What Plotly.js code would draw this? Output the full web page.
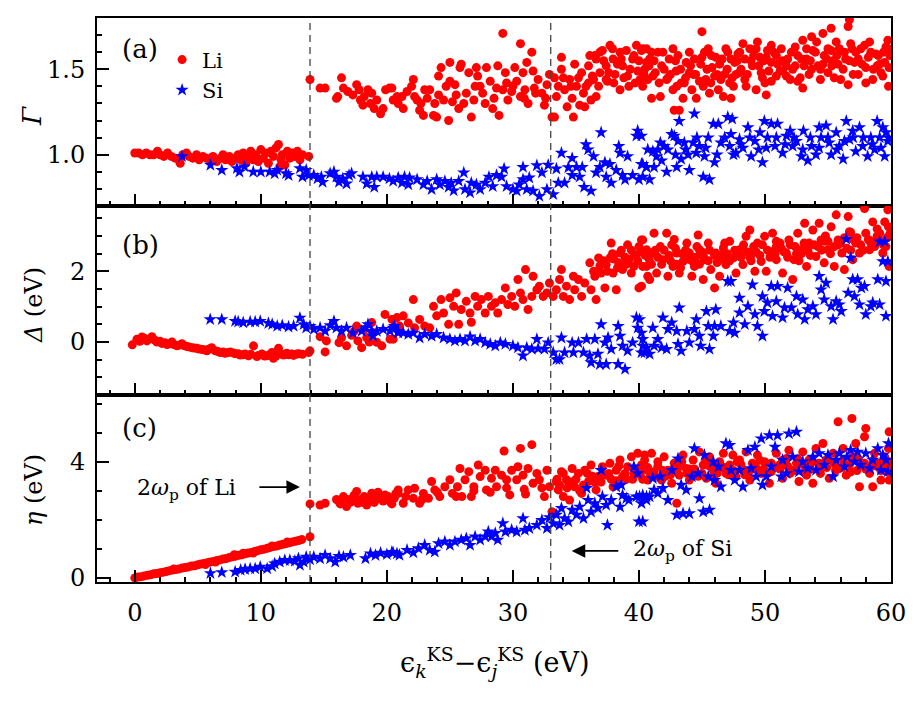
<!DOCTYPE html>
<html>
<head>
<meta charset="utf-8">
<script src="https://cdn.plot.ly/plotly-3.0.1.min.js"></script>
<style>html,body{margin:0;padding:0;background:#fff;}#chart{width:917px;height:704px;}</style>
</head>
<body>
<div id="chart"></div>
<script>
// ---------- DATA (x = eps_k - eps_j in eV, value) ----------
// Panel (a): Gamma
const liGamma = [
[0,1.01],[0.3,1.01],[0.6,1.0],[0.9,1.01],[1.2,1.0],[1.5,1.0],[1.8,1.02],[2.0,1.0],[2.3,0.99],[2.6,1.01],[2.9,0.99],[3.2,0.98],[3.5,0.97],[3.6,0.95],[3.8,1.0],[4.1,1.01],[4.3,0.99],[4.6,0.98],[4.9,1.0],[5.1,0.97],[5.4,0.99],[5.7,0.98],[6.0,0.97],[6.2,0.99],[6.5,0.96],[6.8,0.98],[7.0,1.0],[7.2,0.97],[7.5,0.99],[7.7,0.96],[8.0,0.98],[8.2,1.0],[8.4,0.97],[8.6,1.01],[8.8,0.95],[9.0,0.99],[9.2,1.02],[9.4,0.97],[9.6,1.0],[9.8,0.96],[10.0,1.03],[10.2,0.98],[10.4,1.01],[10.6,0.95],[10.8,1.02],[11.0,0.99],[11.2,1.04],[11.4,1.06],[11.5,0.93],[11.6,0.97],[11.7,1.0],[11.9,0.94],[12.1,1.02],[12.3,0.98],[12.5,1.01],[12.7,0.99],[12.9,1.02],[13.1,0.97],[13.3,1.0],[13.8,0.99],
[13.9,1.44],[14.7,1.39],[15.1,1.39],[16.0,1.33],[16.1,1.34],[16.4,1.45],[16.55,1.39],[16.9,1.37],[17.3,1.35],[17.6,1.41],[17.8,1.38],[17.9,1.32],[18.1,1.29],[18.2,1.34],[18.5,1.38],[18.7,1.30],[18.8,1.36],[19.0,1.27],[19.2,1.32],[19.5,1.24],[19.7,1.27],[19.9,1.38],[20.2,1.39],[20.4,1.39],[20.5,1.32],[20.8,1.34],
[21.2,1.34],[21.3,1.27],[21.96,1.40],[22.1,1.44],[22.2,1.34],[22.6,1.26],[22.7,1.30],[22.9,1.23],[23.2,1.33],[23.4,1.38],[23.7,1.23],[23.95,1.22],[24.1,1.35],[24.1,1.46],[24.3,1.51],[24.5,1.32],[24.9,1.20],[25.0,1.54],[25.0,1.43],[25.2,1.31],[25.4,1.41],[25.7,1.27],[25.8,1.51],[25.9,1.53],[26.3,1.36],[26.5,1.48],[26.7,1.22],[26.9,1.32],[27.1,1.51],[27.2,1.46],[27.4,1.40],[27.8,1.30],[27.9,1.51],[28.2,1.43],[28.4,1.27],[28.7,1.39],[28.8,1.52],[28.9,1.23],[29.2,1.71],[29.4,1.48],[29.5,1.42],[29.6,1.32],[29.9,1.37],[30.15,1.51],[30.3,1.43],[30.6,1.34],[30.6,1.65],[30.8,1.48],[30.95,1.38],[31.1,1.54],[31.2,1.30],[31.5,1.60],[31.6,1.49],[31.7,1.39],[32.0,1.44],[32.3,1.36],[32.5,1.29],[32.7,1.41],[32.9,1.47],[33.1,1.22],[33.3,1.22],[33.45,1.34],[33.6,1.40],[33.85,1.57],[33.85,1.50],[34.1,1.38],[34.3,1.28],[34.5,1.44],[34.7,1.33],[34.8,1.22],[34.9,1.53],[35.05,1.40],[35.3,1.29],[35.45,1.48],[35.6,1.36],[35.7,1.28],[36.0,1.52],[36.1,1.58],[36.2,1.32],[36.4,1.44],[36.6,1.34],[36.6,1.56],[36.9,1.48],[37.1,1.61],[37.4,1.52],[37.5,1.43],[37.7,1.64],[37.95,1.56],[38.1,1.47],[38.5,1.60],[38.7,1.52],[39.0,1.61],[39.1,1.46],[39.5,1.56],[39.8,1.64],[39.9,1.49],[40.2,1.61],[40.3,1.40],[40.6,1.54],[40.7,1.44],
[40.3,1.62],[40.45,1.50],[40.85,1.56],[41.0,1.33],[41.1,1.46],[41.5,1.60],[41.7,1.34],[41.8,1.52],[42.2,1.44],[42.4,1.56],[42.7,1.38],[42.8,1.26],[43.2,1.26],[42.95,1.49],[43.35,1.42],[43.5,1.33],[43.75,1.54],[44.0,1.60],[44.2,1.38],[44.3,1.47],[44.55,1.33],[45.0,1.72],[45.0,1.57],[45.1,1.40],[45.4,1.50],[45.6,1.36],[45.75,1.58],[46.0,1.46],[46.3,1.38],[46.4,1.53],[46.7,1.34],[46.8,1.47],[47.05,1.60],[47.2,1.42],[47.3,1.33],[47.6,1.54],[47.85,1.59],[47.98,1.48],[48.25,1.65],[48.4,1.56],[48.5,1.40],[48.8,1.62],[49.0,1.52],[49.3,1.38],[49.4,1.66],[49.6,1.57],[49.8,1.45],[50.1,1.35],[50.2,1.61],[50.5,1.54],[50.5,1.43],[50.9,1.58],[51.2,1.49],[51.4,1.55],[51.7,1.46],[52.1,1.60],[52.4,1.52],[52.6,1.43],[53.0,1.67],[53.0,1.39],[53.3,1.56],[53.5,1.47],[53.7,1.69],[53.8,1.61],[54.2,1.52],[54.4,1.44],[54.6,1.71],[54.7,1.58],[55.0,1.48],[55.25,1.74],[55.25,1.61],[55.65,1.66],[55.8,1.53],[56.0,1.44],[56.3,1.60],[56.6,1.41],[56.6,1.75],[56.7,1.79],[56.8,1.65],[57.1,1.54],[57.4,1.47],[57.6,1.62],[58.0,1.51],[58.3,1.66],[58.55,1.44],[58.8,1.59],[59.1,1.53],[59.35,1.46],[59.6,1.63],[59.75,1.67],[59.8,1.40],[59.85,1.51],
[36.3,1.46],[36.8,1.40],[37.2,1.55],[37.6,1.48],[38.0,1.42],[38.3,1.53],[38.8,1.45],[39.3,1.50],[39.7,1.42],[40.0,1.55],[40.4,1.47],[40.8,1.52],[41.3,1.48],[41.6,1.42],[42.0,1.50],[42.5,1.47],[42.9,1.55],[43.3,1.50],[43.7,1.45],[44.1,1.52],[44.5,1.47],[44.9,1.53],[45.3,1.44],[45.8,1.51],[46.2,1.47],[46.6,1.56],[47.0,1.50],[47.4,1.45],[47.8,1.55],[48.1,1.50],[48.6,1.47],[49.1,1.58],[49.5,1.52],[49.9,1.55],[50.3,1.49],[50.7,1.60],[51.0,1.53],[51.4,1.49],[51.8,1.56],[52.2,1.50],[52.6,1.58],[53.1,1.52],[53.6,1.55],[54.0,1.60],[54.4,1.50],[54.9,1.56],[55.3,1.52],[55.7,1.58],[56.2,1.50],[56.7,1.55],[57.2,1.60],[57.7,1.53],[58.2,1.57],[58.6,1.50],[59.0,1.58],[59.5,1.54],[59.9,1.58],
[36.5,1.58],[38.5,1.38],[41.0,1.60],[43.0,1.40],[45.5,1.62],[47.5,1.40],[50.0,1.42],[52.8,1.45],[55.5,1.45],[57.0,1.47],[58.0,1.42],[59.2,1.48],
[20.9,1.30],[21.6,1.37],[22.4,1.32],[23.0,1.38],[23.8,1.30],[24.7,1.40],[25.5,1.35],[26.1,1.30],[27.0,1.40],[27.6,1.36],[28.5,1.33],[29.2,1.38],[30.0,1.40],[30.9,1.33],[31.8,1.36],[32.6,1.33],[33.3,1.45],[34.0,1.45],[34.6,1.40],[35.2,1.45],[35.8,1.40],
[36.0,1.42],[36.9,1.60],[37.4,1.44],[37.9,1.62],[38.6,1.56],[39.2,1.40],[39.6,1.58],[40.1,1.44],[40.6,1.62],[41.2,1.55],[41.9,1.60],[42.3,1.45],[42.7,1.62],[43.1,1.58],[43.6,1.42],[44.0,1.48],[44.4,1.56],[44.8,1.43],[45.2,1.60],[45.7,1.42],[46.1,1.57],[46.5,1.44],[46.9,1.62],[47.3,1.56],[47.7,1.47],[48.0,1.60],[48.4,1.44],[48.9,1.55],[49.3,1.62],[49.7,1.48],[50.1,1.57],[50.5,1.64],[50.9,1.46],[51.3,1.62],[51.7,1.52],[52.0,1.44],[52.4,1.63],[52.9,1.56],[53.3,1.62],[53.7,1.50],[54.1,1.66],[54.6,1.53],[55.0,1.62],[55.4,1.55],[55.9,1.62],[56.4,1.56],[56.9,1.62],[57.4,1.56],[57.9,1.64],[58.4,1.60],[58.9,1.52],[59.4,1.60],[59.8,1.62]
];
const siGamma = [
[3.74,0.99],[6.0,0.94],[6.9,0.91],[8.1,0.92],[8.3,0.90],[8.7,0.93],[9.4,0.90],[10.0,0.90],[10.7,0.90],[11.1,0.89],[11.3,0.91],[12.0,0.89],[12.2,0.88],[13.1,0.92],[13.3,0.87],[13.6,0.91],[13.8,0.88],[14.2,0.88],[14.5,0.86],[14.8,0.87],[14.9,0.84],[15.5,0.89],[15.8,0.90],[16.0,0.87],[16.2,0.84],[16.5,0.86],[16.8,0.83],[17.0,0.88],[17.2,0.89],[18.1,0.87],[18.4,0.83],[18.8,0.87],[19.0,0.81],[19.2,0.87],[19.7,0.87],[20.2,0.86],
[20.5,0.845],[20.9,0.865],[21.2,0.835],[21.4,0.87],[21.7,0.825],[21.8,0.865],[22.4,0.855],[22.9,0.825],[23.2,0.845],[23.55,0.797],[23.95,0.855],[24.2,0.825],[24.6,0.845],[24.9,0.81],[25.1,0.835],[25.3,0.79],[25.7,0.845],[26.1,0.895],[26.2,0.797],[26.6,0.778],[26.7,0.835],[27.1,0.825],[27.4,0.797],[27.8,0.835],[28.1,0.87],[28.4,0.815],[28.7,0.88],[29.1,0.87],[29.3,0.918],[29.5,0.815],[30.0,0.797],[30.3,0.788],[30.5,0.825],[30.8,0.927],[30.8,0.855],[31.1,0.797],[31.3,0.865],[31.6,0.788],[31.9,0.937],[32.1,0.758],[32.3,0.895],[32.7,0.797],[32.8,0.94],[33.2,0.768],[33.45,0.918],[33.6,0.835],[33.85,1.01],[34.1,0.835],[34.4,0.925],[34.7,0.98],[34.7,0.88],[35.05,0.927],[35.3,0.87],[35.5,0.927],[35.65,0.81],[35.8,1.06],[35.97,1.03],[36.2,0.788],[36.4,0.99],[36.6,0.895],[36.9,0.927],[37.0,1.13],[37.3,0.955],[37.4,0.87],[37.7,0.945],[37.8,0.835],[38.2,0.91],[38.4,1.05],[38.5,1.01],[38.7,0.88],[38.9,0.855],[39.1,0.99],[39.5,0.88],[39.8,1.11],[39.9,1.14],[40.0,0.855],[40.2,0.945],[40.6,0.927],[40.7,1.03],
[40.2,1.11],[40.3,0.945],[40.3,0.87],[40.85,0.855],[40.6,0.927],[41.1,1.02],[41.2,0.927],[41.4,0.99],[41.7,1.07],[41.8,0.965],[42.2,0.90],[42.3,1.03],[42.6,1.12],[42.8,1.11],[43.0,0.927],[43.1,1.08],[43.2,1.197],[43.35,0.975],[43.6,1.07],[43.9,1.00],[44.0,0.91],[44.3,1.07],[44.4,1.24],[44.55,1.01],[44.8,1.05],[45.1,0.87],[45.2,0.99],[45.5,1.10],[45.6,0.855],[45.9,1.18],[46.0,0.955],[46.3,1.18],[46.5,1.07],[47.05,1.22],[47.2,1.05],[47.3,1.12],[47.4,1.21],[47.7,1.01],[47.98,1.09],[48.25,1.04],[48.65,1.16],[48.9,0.99],[49.2,1.08],[49.6,1.13],[49.8,0.955],[49.95,1.197],[50.2,1.10],[50.5,1.18],[50.8,1.05],[51.0,1.18],[51.4,1.01],[51.7,1.11],[52.0,1.14],[52.2,1.05],[52.5,1.08],[52.9,0.99],[53.05,1.14],[53.4,0.965],[53.7,1.05],[54.05,1.00],[54.3,1.16],[54.45,1.10],[54.85,1.17],[55.1,1.07],[55.25,1.00],[55.65,1.13],[55.9,1.05],[56.2,0.975],[56.45,1.197],[56.7,1.09],[56.96,1.14],[57.2,1.02],[57.5,1.16],[57.75,1.05],[58.15,0.99],[58.4,1.10],[58.7,1.03],[58.9,1.197],[59.1,1.10],[59.35,1.16],[59.5,0.99],[59.6,1.13],[59.75,1.08],
[41.5,1.03],[42.0,1.05],[42.9,1.0],[43.7,1.03],[44.6,1.1],[45.3,1.04],[46.2,1.0],[46.8,1.1],[47.5,1.0],[48.1,1.06],[48.8,1.1],[49.5,1.03],[50.1,1.04],[50.9,1.1],[51.6,1.06],[52.3,1.1],[53.0,1.03],[53.6,1.1],[54.3,1.04],[55.0,1.1],[55.7,1.03],[56.3,1.08],[57.0,1.1],[57.8,1.1],[58.5,1.06],[59.2,1.04],[59.8,1.1]
];

// Panel (b): Delta (eV)
const liDelta = [
[-0.2,-0.08],[0.17,0.08],[0.57,0.14],[0.96,0.03],[1.36,0.15],[1.76,0.0],[2.15,-0.04],[2.55,-0.07],[2.95,0.0],[3.34,-0.11],[3.74,-0.05],[4.13,-0.13],[4.53,-0.16],[4.93,-0.18],[5.32,-0.21],[5.72,-0.25],[6.1,-0.16],[6.38,-0.25],[6.78,-0.30],[7.17,-0.32],[7.57,-0.28],[7.96,-0.33],[8.36,-0.37],[8.75,-0.34],[9.02,-0.39],[9.42,-0.11],[9.68,-0.41],[10.08,-0.34],[10.47,-0.39],[10.87,-0.30],[11.0,-0.46],[11.4,-0.18],[11.66,-0.34],[12.06,-0.32],[12.46,-0.34],[12.85,-0.34],[13.8,-0.30],[13.9,-0.25],
[0.4,0.02],[0.8,0.1],[1.1,0.08],[1.6,0.05],[2.0,0.02],[2.4,-0.02],[2.8,-0.05],[3.1,-0.07],[3.5,-0.09],[3.9,-0.1],[4.3,-0.14],[4.7,-0.17],[5.1,-0.2],[5.5,-0.22],[5.9,-0.2],[6.6,-0.27],[7.0,-0.28],[7.4,-0.3],[7.8,-0.31],[8.2,-0.33],[8.6,-0.36],[9.2,-0.35],[9.8,-0.38],[10.3,-0.40],[10.7,-0.36],[11.2,-0.4],[11.8,-0.37],[12.2,-0.36],[12.6,-0.38],[13.0,-0.33],[13.3,-0.35],
[14.7,0.15],[15.1,-0.28],[15.2,0.03],[16.2,-0.02],[16.4,0.12],[16.8,-0.11],[17.2,0.19],[17.6,0.45],[17.7,0.03],[18.0,-0.16],[18.4,0.12],[18.8,0.55],[18.9,0.27],[19.2,-0.01],[19.6,-0.11],[19.85,0.78],[20.25,0.08],[20.5,0.64],[20.8,0.69],[17.4,0.3],[18.2,0.35],[18.6,0.0],
[20.4,0.64],[20.5,0.08],[21.0,0.45],[21.3,0.74],[21.7,0.54],[22.1,1.2],[22.2,0.40],[22.6,0.64],[23.0,0.45],[23.4,0.40],[23.7,1.01],[23.95,0.74],[24.3,1.2],[24.5,0.82],[24.9,0.50],[25.0,1.25],[25.3,1.01],[25.5,1.39],[25.7,0.50],[25.9,0.92],[26.3,1.15],[26.6,0.82],[26.7,0.56],[27.0,1.29],[27.2,1.01],[27.5,1.20],[27.8,0.82],[28.05,1.29],[28.3,1.01],[28.6,1.11],[28.8,0.82],[29.1,1.20],[29.4,1.53],[29.6,1.06],[29.9,1.29],[30.15,1.01],[30.4,1.77],[30.6,1.39],[30.8,1.20],[31.0,2.05],[31.2,0.92],[31.5,1.29],[31.6,1.86],[31.9,1.48],[32.1,1.58],[32.4,1.29],[32.7,1.39],[32.9,1.67],[33.2,1.29],[33.45,1.48],[33.7,1.77],[33.85,2.05],[34.0,1.29],[34.25,1.58],[34.5,1.20],[34.8,1.86],[34.9,1.48],[35.2,1.77],[35.45,1.29],[35.7,1.67],[36.1,2.24],[36.2,1.48],[36.5,1.86],[36.6,1.20],[36.8,2.38],[37.0,1.95],[37.3,1.53],[37.4,2.19],[37.7,2.38],[37.8,2.80],[37.95,1.95],[38.2,1.48],[38.4,2.24],[38.5,2.52],[38.7,2.05],[39.1,2.75],[39.2,2.33],[39.4,1.95],[39.6,2.14],[39.8,2.47],[40.0,1.53],[40.2,2.89],[40.3,2.14],[40.6,2.61],[40.7,1.86],
[40.2,1.58],[40.3,2.89],[40.6,2.14],[40.85,1.77],[41.0,2.52],[41.2,3.08],[41.4,1.95],[41.7,2.70],[41.9,2.33],[42.2,3.08],[42.3,1.86],[42.6,2.75],[42.7,2.14],[43.0,2.52],[43.2,1.95],[43.5,2.28],[43.8,2.80],[44.0,2.52],[44.2,1.86],[44.4,2.14],[44.7,3.03],[44.8,2.61],[45.1,1.77],[45.2,2.33],[45.5,2.80],[45.7,2.05],[46.0,1.53],[46.1,2.52],[46.4,1.86],[46.7,2.66],[46.9,2.19],[47.2,2.85],[47.5,2.38],[47.7,1.95],[47.98,2.61],[48.25,2.19],[48.5,2.99],[48.8,3.17],[48.9,2.47],[49.2,2.00],[49.4,2.80],[49.7,2.28],[49.97,2.99],[50.1,2.00],[50.4,2.56],[50.6,3.08],[50.9,2.33],[51.2,2.80],[51.4,1.95],[51.7,2.52],[51.9,2.89],[52.2,1.77],[52.3,2.33],[52.6,3.08],[52.9,2.61],[53.15,3.36],[53.3,2.14],[53.5,2.80],[53.8,3.17],[54.05,2.42],[54.3,3.36],[54.45,2.89],[54.7,2.24],[55.0,2.61],[55.25,3.26],[55.5,2.14],[55.65,3.60],[55.8,2.89],[56.1,2.52],[56.3,2.05],[56.6,3.55],[56.7,3.12],[56.96,2.33],[57.2,2.80],[57.5,2.52],[57.9,3.78],[58.0,3.08],[58.3,2.61],[58.55,3.40],[58.8,2.89],[59.1,3.08],[59.35,2.52],[59.6,2.70],[59.75,3.74],[59.8,3.26],[59.85,2.14],
[37.2,2.3],[37.9,2.5],[38.3,2.1],[38.9,2.4],[39.4,2.6],[39.9,2.3],[40.5,2.45],[41.0,2.2],[41.5,2.4],[42.0,2.6],[42.5,2.3],[43.0,2.2],[43.4,2.5],[43.9,2.35],[44.5,2.4],[45.0,2.55],[45.5,2.3],[46.0,2.45],[46.6,2.35],[47.0,2.5],[47.6,2.6],[48.1,2.4],[48.6,2.55],[49.1,2.7],[49.6,2.45],[50.2,2.6],[50.8,2.5],[51.3,2.65],[51.8,2.4],[52.4,2.7],[52.9,2.5],[53.4,2.6],[53.9,2.75],[54.5,2.6],[55.0,2.85],[55.5,2.7],[56.0,2.8],[56.5,2.65],[57.0,2.9],[57.6,2.75],[58.2,2.9],[58.7,2.7],[59.2,2.85],[59.7,2.95],
[40.0,2.7],[42.8,2.9],[44.8,2.2],[46.8,2.8],[48.9,2.3],[50.9,2.85],[52.7,2.3],[54.8,3.0],[56.8,3.1],[58.9,3.2],[59.5,3.4],
[36.4,2.0],[36.9,2.15],[37.5,2.0],[38.0,2.35],[38.6,2.6],[39.0,2.2],[39.6,2.45],[40.2,2.55],[40.8,2.35],[41.3,2.6],[41.8,2.2],[42.4,2.45],[42.9,2.65],[43.3,2.1],[43.7,2.6],[44.2,2.3],[44.6,2.7],[45.1,2.45],[45.6,2.6],[46.2,2.25],[46.7,2.5],[47.2,2.3],[47.8,2.45],[48.3,2.75],[48.8,2.4],[49.3,2.55],[49.8,2.75],[50.4,2.4],[50.9,2.7],[51.5,2.55],[52.0,2.75],[52.5,2.5],[53.1,2.8],[53.6,2.45],[54.2,2.7],[54.7,2.85],[55.2,2.5],[55.8,2.75],[56.3,2.95],[56.8,2.6],[57.3,2.95],[57.8,2.6],[58.4,2.8],[58.9,3.0],[59.4,2.75],[59.9,3.05]
];
const siDelta = [
[5.98,0.64],[6.9,0.64],[7.96,0.59],[8.2,0.57],[8.6,0.55],[9.15,0.57],[9.55,0.57],[9.95,0.59],[10.6,0.53],[10.9,0.50],[11.3,0.45],[11.7,0.47],[12.2,0.43],[12.6,0.45],[13.1,0.68],[13.4,0.50],[13.6,0.40],[13.9,0.45],[14.2,0.36],[14.7,0.40],[15.1,0.31],[15.5,0.47],[15.8,0.59],[16.0,0.40],[16.4,0.31],[16.8,0.40],[17.3,0.26],[18.0,0.31],[18.3,0.40],[18.5,0.50],[18.8,0.31],[18.9,0.17],[19.2,0.31],[19.7,0.36],[20.25,0.31],[20.6,0.45],[20.9,0.26],
[20.5,0.40],[20.9,0.31],[21.3,0.26],[21.7,0.22],[22.1,0.26],[22.6,0.12],[23.0,0.22],[23.55,0.17],[23.95,0.22],[24.5,0.12],[25.0,0.08],[25.4,0.03],[25.8,0.08],[26.2,0.03],[26.6,0.15],[27.0,0.03],[27.4,0.08],[27.8,-0.02],[28.2,-0.06],[28.6,-0.11],[29.0,-0.02],[29.4,-0.06],[30.0,-0.11],[30.4,-0.16],[30.8,-0.39],[31.1,-0.16],[31.5,-0.20],[31.9,0.08],[32.0,-0.19],[32.5,-0.20],[32.8,-0.02],[33.2,-0.30],[33.45,-0.49],[33.7,-0.49],[33.85,0.12],[34.1,-0.30],[34.7,-0.02],[34.8,-0.30],[35.2,-0.02],[35.6,-0.30],[35.85,0.08],[36.1,-0.39],[36.2,-0.58],[36.5,0.08],[36.75,-0.34],[36.9,-0.63],[37.0,0.50],[37.3,-0.02],[37.4,-0.63],[37.55,0.12],[37.8,-0.20],[38.35,0.45],[38.35,-0.63],[38.5,0.17],[38.7,-0.11],[38.9,-0.77],[39.1,-0.25],[39.5,-0.02],[39.8,0.69],[39.9,0.40],[40.2,-0.30],[40.3,0.08],[40.6,-0.16],
[40.05,0.64],[40.2,0.26],[40.3,-0.11],[40.45,-0.30],[40.85,-0.34],[41.1,0.40],[41.2,-0.11],[41.5,0.08],[41.8,-0.16],[41.9,0.69],[42.2,-0.20],[42.3,0.36],[42.6,0.55],[43.0,0.31],[43.1,-0.06],[43.2,0.97],[43.35,-0.25],[43.8,0.31],[44.0,-0.02],[44.4,0.36],[44.55,0.64],[44.8,0.17],[44.9,-0.11],[45.35,0.87],[45.5,0.45],[45.6,-0.20],[45.9,0.17],[46.0,0.45],[46.1,0.92],[46.5,0.45],[47.05,1.72],[47.2,0.31],[47.3,1.72],[47.5,0.55],[47.6,0.26],[47.98,1.25],[47.98,0.83],[48.4,0.50],[48.65,1.01],[49.0,1.62],[49.2,0.78],[49.4,0.45],[49.8,1.29],[49.8,0.17],[49.95,0.87],[50.2,1.11],[50.5,1.58],[50.6,0.73],[50.9,1.15],[51.0,1.58],[51.4,0.69],[51.55,0.97],[51.8,1.53],[52.1,0.97],[52.5,1.29],[52.6,0.78],[53.0,1.20],[53.15,0.64],[53.4,0.92],[53.8,1.01],[54.05,0.78],[54.3,1.86],[54.45,1.48],[54.7,1.20],[54.85,1.67],[55.25,1.01],[55.4,0.64],[55.65,1.15],[55.9,1.06],[56.05,0.87],[56.45,2.91],[56.6,1.39],[56.8,2.38],[56.96,1.77],[57.1,1.29],[57.35,1.77],[57.5,1.06],[57.65,1.53],[57.9,1.58],[58.0,0.78],[58.4,1.01],[58.55,1.11],[58.95,1.77],[59.1,2.84],[59.1,1.06],[59.35,2.28],[59.5,2.84],[59.6,1.72],[59.6,0.73],[59.75,2.28]
];

// Panel (c): eta (eV)
const liEta = [
[0.0,0.0],[0.25,0.03],[0.5,0.04],[0.75,0.07],[1.0,0.09],[1.25,0.11],[1.5,0.14],[1.75,0.15],[2.0,0.18],[2.25,0.2],[2.5,0.22],[2.75,0.25],[3.0,0.27],[3.25,0.29],[3.5,0.31],[3.75,0.34],[4.0,0.36],[4.25,0.38],[4.5,0.41],[4.75,0.42],[5.0,0.45],[5.25,0.48],[5.5,0.5],[5.75,0.52],[6.0,0.55],[6.25,0.57],[6.5,0.6],[6.75,0.62],[7.0,0.65],[7.25,0.67],[7.5,0.7],[7.75,0.73],[8.0,0.75],[8.25,0.78],[8.5,0.8],[8.75,0.83],[9.0,0.86],[9.25,0.88],[9.5,0.91],[9.75,0.94],[10.0,0.97],[10.25,0.99],[10.5,1.02],[10.75,1.05],[11.0,1.08],[11.25,1.1],[11.5,1.13],[11.75,1.16],[12.0,1.18],[12.25,1.21],[12.5,1.24],[12.75,1.26],[13.0,1.29],[13.25,1.32],[13.9,1.42],[13.9,2.55],
[3.1,0.31],[5.6,0.46],[7.9,0.8],[9.4,0.86],[10.9,1.1],[12.1,1.24],[8.6,0.85],[6.4,0.55],
[14.7,2.51],[15.1,2.57],[16.2,2.63],[16.55,2.80],[16.8,2.46],[17.3,2.75],[17.6,2.98],[17.7,2.57],[18.2,2.80],[18.4,2.51],[18.8,2.92],[19.1,2.69],[19.5,2.80],[19.85,2.86],[20.25,2.63],[20.6,2.75],[20.9,3.03],
[16.0,2.7],[16.3,2.55],[16.9,2.7],[17.1,2.6],[17.4,2.85],[17.9,2.7],[18.1,2.6],[18.6,2.75],[19.0,2.6],[19.3,2.95],[19.7,2.65],[20.1,2.8],[20.4,2.55],[20.7,2.9],
[20.4,2.68],[20.9,2.91],[21.3,2.57],[21.7,3.03],[22.1,2.74],[22.2,3.09],[22.6,2.57],[22.9,2.91],[23.3,2.74],[23.55,3.32],[23.8,3.03],[24.2,2.80],[24.6,3.14],[25.0,3.38],[25.2,2.91],[25.6,3.14],[25.8,3.77],[25.95,2.80],[26.2,3.38],[26.5,3.66],[26.7,2.80],[26.9,3.14],[27.25,3.89],[27.4,3.49],[27.8,3.71],[27.9,3.03],[28.3,3.43],[28.6,3.71],[28.7,3.14],[29.1,3.54],[29.3,4.37],[29.5,3.38],[29.75,2.86],[29.9,3.71],[30.3,3.38],[30.4,3.83],[30.6,4.46],[30.8,3.54],[31.0,2.89],[31.2,3.77],[31.5,4.59],[31.6,3.26],[31.9,3.60],[32.1,3.38],[32.5,2.80],[32.7,3.71],[32.9,3.14],[33.1,2.28],[33.3,2.22],[33.45,3.32],[33.6,3.03],[33.85,3.66],[34.0,2.80],[34.25,3.38],[34.5,2.68],[34.7,3.77],[34.9,3.14],[35.2,3.60],[35.45,2.91],[35.7,3.71],[36.0,3.32],[36.2,3.89],[36.6,3.03],[36.75,3.49],[37.1,3.83],[37.4,3.54],[37.7,3.95],[37.95,3.14],[38.2,3.71],[38.5,4.06],[38.7,3.49],[39.1,3.83],[39.4,4.17],[39.6,3.60],[39.9,4.29],[40.2,3.89],[40.45,4.23],[40.7,3.71],
[40.2,3.71],[40.45,4.06],[40.7,3.37],[41.0,4.29],[41.2,3.66],[41.5,4.00],[41.8,3.37],[42.0,4.17],[42.3,3.71],[42.6,3.26],[42.8,3.95],[43.0,2.57],[43.2,3.54],[43.5,4.23],[43.75,3.77],[44.0,3.37],[44.3,4.06],[44.55,3.60],[44.8,4.34],[45.1,3.89],[45.35,3.43],[45.6,4.17],[45.9,3.71],[46.1,3.26],[46.4,4.00],[46.7,4.29],[46.9,3.60],[47.2,3.89],[47.45,4.23],[47.7,3.49],[47.98,4.06],[48.25,3.71],[48.5,4.34],[48.8,3.37],[49.0,3.95],[49.4,4.23],[49.7,3.60],[49.97,4.00],[50.35,3.26],[50.5,3.66],[50.9,4.29],[51.15,3.89],[51.4,3.43],[51.7,4.11],[51.9,4.40],[52.2,3.71],[52.5,3.95],[52.7,3.32],[53.0,4.34],[53.3,3.54],[53.5,4.06],[53.8,3.26],[54.05,4.46],[54.3,3.71],[54.6,4.63],[54.85,4.06],[55.1,3.43],[55.4,4.29],[55.8,5.38],[55.9,3.77],[56.2,4.46],[56.45,3.54],[56.9,5.49],[56.96,4.17],[57.2,4.63],[57.5,3.14],[57.75,3.89],[57.9,4.86],[58.0,5.15],[58.3,3.60],[58.55,3.14],[58.7,4.29],[58.95,3.83],[59.2,3.37],[59.5,4.17],[59.7,3.66],[59.85,5.03],[59.85,3.37],[59.8,4.46],
[34.3,3.1],[35.0,3.4],[35.6,3.2],[36.3,3.5],[37.0,3.3],[37.6,3.6],[38.2,3.35],[38.9,3.6],[39.5,3.4],[40.1,3.55],[40.7,3.8],[41.3,3.5],[41.9,3.7],[42.5,3.55],[43.1,3.8],[43.8,3.6],[44.4,3.75],[45.0,3.6],[45.6,3.85],[46.2,3.6],[46.8,3.8],[47.5,3.7],[48.1,3.9],[48.7,3.65],[49.3,3.8],[49.9,3.75],[50.5,3.95],[51.2,3.75],[51.8,3.85],[52.4,3.7],[53.0,3.9],[53.6,3.75],[54.3,3.95],[54.9,3.8],[55.5,3.95],[56.1,3.8],[56.7,3.9],[57.3,3.7],[57.9,3.95],[58.5,3.85],[59.1,3.95],[59.7,3.85],
[21.5,2.8],[22.8,2.7],[24.0,2.95],[25.5,2.8],[26.9,3.0],[28.2,2.95],[29.5,3.1],[30.9,3.05],[32.3,3.1],[33.7,3.2],
[33.5,3.4],[34.0,3.6],[34.6,3.3],[35.3,3.0],[35.9,3.6],[36.5,3.3],[37.2,3.55],[37.8,3.4],[38.4,3.85],[39.0,3.4],[39.7,3.75],[40.3,3.4],[40.9,3.6],[41.5,3.85],[42.1,3.5],[42.7,3.7],[43.4,4.0],[44.0,3.75],[44.7,3.5],[45.3,4.0],[45.9,3.5],[46.5,3.85],[47.1,3.55],[47.8,4.0],[48.4,3.55],[49.0,3.75],[49.6,4.05],[50.2,3.6],[50.8,3.8],[51.4,4.05],[52.0,3.6],[52.6,4.1],[53.2,3.65],[53.8,4.0],[54.4,3.6],[55.0,4.1],[55.6,3.7],[56.2,4.05],[56.8,3.65],[57.4,4.1],[58.0,3.75],[58.6,4.05],[59.2,3.7],[59.8,4.0]
];
const siEta = [
[6.0,0.16],[6.9,0.19],[7.96,0.21],[8.4,0.27],[8.75,0.30],[9.15,0.32],[9.55,0.32],[9.95,0.38],[10.5,0.32],[10.9,0.40],[11.1,0.49],[11.5,0.55],[11.9,0.61],[12.3,0.61],[12.7,0.58],[12.98,0.67],[13.1,0.44],[13.4,0.55],[13.6,0.72],[13.9,0.63],[14.2,0.72],[14.7,0.67],[15.1,0.78],[15.5,0.67],[15.9,0.55],[16.2,0.75],[16.55,0.72],[17.1,0.78],[18.3,0.67],[18.7,0.84],[19.1,0.78],[19.5,0.86],[20.0,0.81],[20.4,0.89],[20.8,0.84],
[20.5,0.87],[21.0,0.79],[21.6,0.96],[22.1,0.87],[22.5,1.02],[23.0,1.13],[23.4,0.96],[23.8,0.90],[24.1,1.19],[24.6,1.25],[25.0,1.13],[25.4,1.25],[25.9,1.31],[26.3,1.36],[26.6,1.13],[27.0,1.42],[27.4,1.31],[27.8,1.42],[28.05,1.59],[28.3,1.42],[28.6,1.54],[28.8,1.31],[29.2,1.88],[29.4,1.59],[29.9,1.65],[30.3,1.59],[30.8,2.05],[30.95,1.65],[31.3,1.71],[31.9,1.82],[32.3,1.99],[32.7,1.71],[32.9,2.08],[33.2,1.88],[33.45,2.17],[33.7,1.82],[33.85,2.40],[34.1,2.05],[34.4,1.94],[34.7,2.34],[35.05,2.17],[35.3,2.45],[35.6,2.05],[35.85,3.09],[35.97,2.68],[36.2,2.28],[36.5,2.57],[36.75,2.40],[37.0,3.71],[37.1,2.80],[37.4,2.51],[37.5,1.82],[37.8,2.68],[38.2,3.14],[38.5,2.45],[38.6,3.20],[38.7,2.85],[39.0,2.74],[39.2,2.68],[39.6,3.83],[39.8,2.80],[39.9,3.60],[40.0,1.94],[40.3,2.85],[40.6,2.80],
[40.05,2.80],[40.2,2.57],[40.3,1.94],[40.6,2.68],[40.85,2.80],[41.1,3.43],[41.2,3.03],[41.5,2.91],[41.7,3.49],[41.9,3.09],[42.3,2.68],[42.6,3.71],[43.0,2.17],[43.1,4.11],[43.35,3.20],[43.5,2.22],[43.75,3.03],[44.0,2.22],[44.2,3.49],[44.4,4.46],[44.7,3.60],[44.8,2.74],[45.1,2.28],[45.2,4.23],[45.5,3.49],[45.6,2.34],[45.9,4.00],[46.0,3.37],[46.3,3.83],[46.5,3.14],[46.9,4.63],[47.2,4.57],[47.3,3.71],[47.6,3.37],[47.98,3.71],[48.25,3.14],[48.65,4.40],[48.9,3.77],[49.2,4.51],[49.3,3.49],[49.7,4.80],[49.8,3.20],[50.1,3.49],[50.35,4.91],[50.5,3.83],[50.8,4.51],[51.0,4.91],[51.3,3.49],[51.4,4.06],[51.7,3.60],[51.9,4.97],[52.2,4.17],[52.5,5.03],[52.7,3.66],[53.0,4.00],[53.4,3.77],[53.8,4.17],[54.05,3.71],[54.3,4.29],[54.7,3.89],[55.0,4.23],[55.4,3.49],[55.65,4.06],[55.9,4.29],[56.3,3.83],[56.5,4.17],[56.8,4.40],[57.1,4.00],[57.35,4.34],[57.6,3.89],[58.0,4.29],[58.3,3.77],[58.55,4.06],[58.95,4.46],[59.2,3.71],[59.35,4.23],[59.6,4.06],[59.8,4.63],[59.75,3.66]
];

// Vertical marker positions (2 omega_p of Li and Si, eV)
const plasmonLines = [13.9, 33.0];
const xTickVals = [0, 10, 20, 30, 40, 50, 60];

// ---------- BUILD ----------
const xs = a => a.map(p => p[0]);
const ys = a => a.map(p => p[1]);
const RED = '#ff0000', BLUE = '#0000ff';
const FONT = 'DejaVu Serif';

function liTrace(d, xa, ya, show) {
  return {x: xs(d), y: ys(d), xaxis: xa, yaxis: ya, type: 'scatter', mode: 'markers', name: 'Li',
    legendgroup: 'li', showlegend: show, marker: {symbol: 'circle', size: 9, color: RED, line: {width: 0}}};
}
function siTrace(d, xa, ya, show) {
  return {x: xs(d), y: ys(d), xaxis: xa, yaxis: ya, type: 'scatter', mode: 'markers', name: 'Si',
    legendgroup: 'si', showlegend: show, marker: {symbol: 'star', size: 10, color: BLUE, line: {width: 0}}};
}

const data = [
  liTrace(liGamma, 'x', 'y', true), siTrace(siGamma, 'x', 'y', true),
  liTrace(liDelta, 'x2', 'y2', false), siTrace(siDelta, 'x2', 'y2', false),
  liTrace(liEta, 'x3', 'y3', false), siTrace(siEta, 'x3', 'y3', false)
];

const axBase = {
  showline: true, linecolor: 'black', linewidth: 2, mirror: true,
  ticks: 'inside', ticklen: 12, tickwidth: 2, tickcolor: 'black',
  showgrid: false, zeroline: false,
  tickfont: {family: FONT, size: 24, color: 'black'}
};
function xax(anchor, labels) {
  return Object.assign({}, axBase, {anchor: anchor, domain: [0, 1], range: [-3, 60],
    tickmode: 'array', tickvals: xTickVals, showticklabels: labels, ticklabelstandoff: 8,
    minor: {dtick: 2, tick0: 0, ticks: 'inside', ticklen: 5, tickwidth: 2, tickcolor: 'black'}});
}
function yax(anchor, domain, range, dtick, minor, fmt) {
  return Object.assign({}, axBase, {anchor: anchor, domain: domain, range: range,
    tick0: 0, dtick: dtick, tickformat: fmt, ticklabelstandoff: 5,
    minor: {dtick: minor, tick0: 0, ticks: 'inside', ticklen: 5, tickwidth: 2, tickcolor: 'black'}});
}

const dA = [0.6667, 1], dB = [0.3316, 0.6667], dC = [0, 0.3316];

const shapes = plasmonLines.map(v => ({type: 'line', xref: 'x3', yref: 'paper', x0: v, x1: v, y0: 0, y1: 1,
  line: {color: '#444', width: 1.3, dash: '7px,5px'}}));

const ann = (o) => Object.assign({showarrow: false, font: {family: FONT, size: 24, color: 'black'}}, o);
const annotations = [
  ann({text: '(a)', xref: 'paper', yref: 'paper', x: 0.054, y: 0.945, xanchor: 'center', yanchor: 'middle', font: {family: FONT, size: 26, color: 'black'}}),
  ann({text: '(b)', xref: 'paper', yref: 'paper', x: 0.0554, y: 0.5975, xanchor: 'center', yanchor: 'middle', font: {family: FONT, size: 26, color: 'black'}}),
  ann({text: '(c)', xref: 'paper', yref: 'paper', x: 0.054, y: 0.273, xanchor: 'center', yanchor: 'middle', font: {family: FONT, size: 26, color: 'black'}}),
  ann({text: '<i>Γ</i>', xref: 'paper', yref: 'paper', x: -0.0819, y: 0.826, xanchor: 'center', yanchor: 'middle', textangle: -90, font: {family: FONT, size: 26, color: 'black'}}),
  ann({text: '<i>Δ</i> (eV)', xref: 'paper', yref: 'paper', x: -0.0793, y: 0.491, xanchor: 'center', yanchor: 'middle', textangle: -90}),
  ann({text: '<i>η</i> (eV)', xref: 'paper', yref: 'paper', x: -0.0793, y: 0.163, xanchor: 'center', yanchor: 'middle', textangle: -90}),
  ann({text: 'ϵ<sub><i>k</i></sub><sup>KS</sup>−ϵ<sub><i>j</i></sub><sup>KS</sup> (eV)', xref: 'paper', yref: 'paper', x: 0.501, y: -0.1436, xanchor: 'center', yanchor: 'middle', font: {family: FONT, size: 27, color: 'black'}}),
  ann({text: '2<i>ω</i><sub>p</sub> of Li', xref: 'x3', yref: 'y3', x: 0.04, y: 3.06, xanchor: 'left', yanchor: 'middle', font: {family: FONT, size: 22, color: 'black'}}),
  ann({text: '2<i>ω</i><sub>p</sub> of Si', xref: 'x3', yref: 'y3', x: 39.4, y: 0.93, xanchor: 'left', yanchor: 'middle', font: {family: FONT, size: 22, color: 'black'}}),
  {text: '', xref: 'x3', yref: 'y3', x: 13.1, y: 3.13, ax: -42, ay: 0, showarrow: true, arrowhead: 2, arrowsize: 1.5, arrowwidth: 1.8, arrowcolor: 'black'},
  {text: '', xref: 'x3', yref: 'y3', x: 34.67, y: 0.93, ax: 48, ay: 0, showarrow: true, arrowhead: 2, arrowsize: 1.5, arrowwidth: 1.8, arrowcolor: 'black'}
];

const layout = {
  width: 917, height: 704,
  margin: {l: 97, r: 26, t: 18, b: 122},
  paper_bgcolor: 'white', plot_bgcolor: 'white',
  font: {family: FONT, color: 'black'},
  xaxis: xax('y', false), xaxis2: xax('y2', false), xaxis3: xax('y3', true),
  yaxis: yax('x', dA, [0.7, 1.8], 0.5, 0.1, '.1f'),
  yaxis2: yax('x2', dB, [-1.5, 3.85], 2, 0.5, 'd'),
  yaxis3: yax('x3', dC, [-0.14, 6.3], 4, 1, 'd'),
  showlegend: true,
  legend: {x: 0.082, y: 0.962, xanchor: 'left', yanchor: 'top', bgcolor: 'rgba(0,0,0,0)', borderwidth: 0,
    font: {family: FONT, size: 21, color: 'black'}, traceorder: 'grouped', tracegroupgap: 0, itemwidth: 30},
  shapes: shapes, annotations: annotations
};

Plotly.newPlot('chart', data, layout, {displayModeBar: false, staticPlot: true});
</script>
</body>
</html>
